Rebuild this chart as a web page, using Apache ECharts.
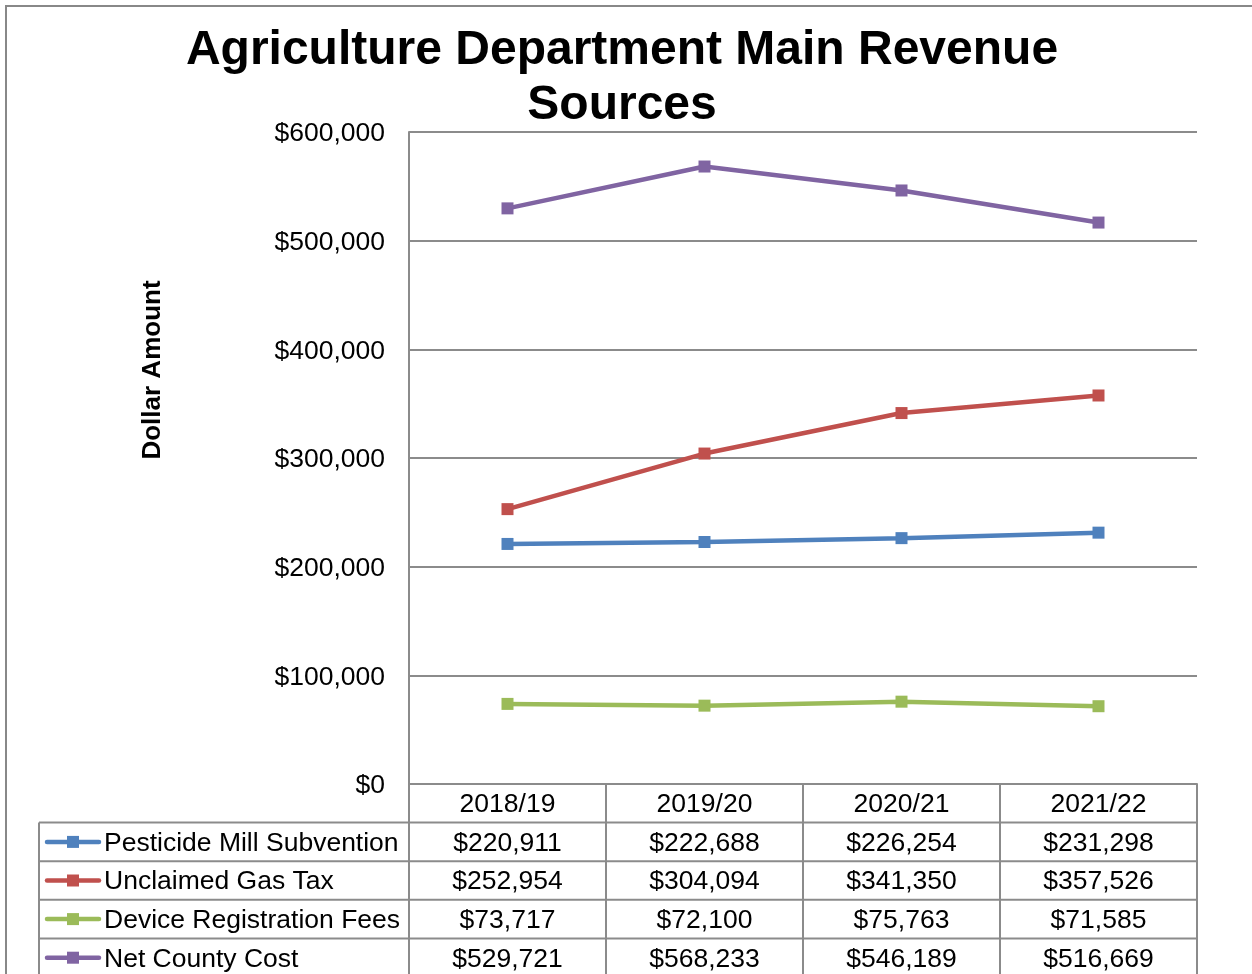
<!DOCTYPE html>
<html>
<head>
<meta charset="utf-8">
<title>Agriculture Department Main Revenue Sources</title>
<script src="https://cdn.jsdelivr.net/npm/echarts@6/dist/echarts.min.js"></script>
<style>
  html, body { margin: 0; padding: 0; background: #fff; }
  #chart { width: 1252px; height: 974px; }
</style>
</head>
<body>
<div id="chart"></div>
<script>
const years = ['2018/19', '2019/20', '2020/21', '2021/22']
const pesticide = [220911, 222688, 226254, 231298]
const gasTax = [252954, 304094, 341350, 357526]
const deviceFees = [73717, 72100, 75763, 71585]
const netCounty = [529721, 568233, 546189, 516669]
const seriesNames = ['Pesticide Mill Subvention', 'Unclaimed Gas Tax', 'Device Registration Fees', 'Net County Cost']
const yMin = 0
const yMax = 600000
const yStep = 100000

const colors = ['#4F81BD', '#C0504D', '#9BBB59', '#8064A2']
const font = "'Liberation Sans', Arial, sans-serif"
const gray = '#8b8b8b'
const textSize = 26.5

const gridLeft = 409
const gridRight = 1197
const gridTop = 132
const gridBottom = 784
const rowH = 38.6
const legendLeft = 39

const fmt = v => '$' + v.toLocaleString('en-US')

const chart = echarts.init(document.getElementById('chart'))

const allSeries = [pesticide, gasTax, deviceFees, netCounty]

chart.setOption({
  animation: false,
  backgroundColor: '#fff',
  title: {
    text: 'Agriculture Department Main Revenue\nSources',
    left: 622,
    top: 23,
    padding: 0,
    textAlign: 'center',
    textStyle: {
      fontFamily: font,
      fontSize: 48,
      fontWeight: 'bold',
      lineHeight: 55,
      color: '#000'
    }
  },
  grid: {
    left: gridLeft,
    top: gridTop,
    width: gridRight - gridLeft,
    height: gridBottom - gridTop
  },
  xAxis: {
    type: 'category',
    data: years,
    boundaryGap: true,
    axisLine: { lineStyle: { color: gray, width: 2 } },
    axisTick: { show: false },
    axisLabel: { show: false }
  },
  yAxis: {
    type: 'value',
    min: yMin,
    max: yMax,
    interval: yStep,
    axisLine: { show: true, lineStyle: { color: gray, width: 2 } },
    axisTick: { show: false },
    axisLabel: {
      margin: 24,
      formatter: v => '{t|' + fmt(v) + '}',
      rich: {
        t: {
          color: '#000',
          fontFamily: font,
          fontSize: textSize,
          padding: [4, 0, 0, 0]
        }
      }
    },
    splitLine: { lineStyle: { color: gray, width: 2 } }
  },
  series: allSeries.map((d, i) => ({
    name: seriesNames[i],
    type: 'line',
    data: d,
    symbol: 'rect',
    symbolSize: 12,
    itemStyle: { color: colors[i] },
    lineStyle: { color: colors[i], width: 4.5 },
    z: 3
  }))
})

// data table under the plot, plus border and axis title
function buildGraphics() {
  const els = []
  const colW = (gridRight - gridLeft) / years.length
  const tableTop = gridBottom
  const nRows = seriesNames.length + 1
  const tableBottom = tableTop + rowH * nRows
  const dy = 1.5

  els.push({
    type: 'rect',
    shape: { x: 6, y: 6, width: 1400, height: 1200 },
    style: { fill: null, stroke: '#888', lineWidth: 2 },
    silent: true
  })

  els.push({
    type: 'text',
    x: 153,
    y: 370,
    rotation: Math.PI / 2,
    style: {
      text: 'Dollar Amount',
      fontFamily: font,
      fontSize: 26,
      fontWeight: 'bold',
      fill: '#000',
      align: 'center',
      verticalAlign: 'middle'
    }
  })

  // vertical lines
  for (let c = 0; c <= years.length; c++) {
    const x = gridLeft + colW * c
    els.push({
      type: 'line',
      shape: { x1: x, y1: tableTop, x2: x, y2: tableBottom },
      style: { stroke: gray, lineWidth: 2 }
    })
  }
  els.push({
    type: 'line',
    shape: { x1: legendLeft, y1: tableTop + rowH, x2: legendLeft, y2: tableBottom },
    style: { stroke: gray, lineWidth: 2 }
  })
  // horizontal lines
  for (let r = 1; r <= nRows; r++) {
    const y = tableTop + rowH * r
    els.push({
      type: 'line',
      shape: { x1: legendLeft, y1: y, x2: gridRight, y2: y },
      style: { stroke: gray, lineWidth: 2 }
    })
  }

  // header
  years.forEach((yr, c) => {
    const cx = chart.convertToPixel({ xAxisIndex: 0 }, c)
    els.push({
      type: 'text',
      x: cx,
      y: tableTop + rowH / 2 + dy,
      style: { text: yr, fontFamily: font, fontSize: textSize, fill: '#000', align: 'center', verticalAlign: 'middle' }
    })
  })

  // rows
  allSeries.forEach((d, i) => {
    const cy = tableTop + rowH * (i + 1.5)
    els.push({
      type: 'line',
      shape: { x1: 47, y1: cy, x2: 99, y2: cy },
      style: { stroke: colors[i], lineWidth: 4.5, lineCap: 'round' }
    })
    els.push({
      type: 'rect',
      shape: { x: 67, y: cy - 6, width: 12, height: 12 },
      style: { fill: colors[i] }
    })
    els.push({
      type: 'text',
      x: 104,
      y: cy + dy,
      style: { text: seriesNames[i], fontFamily: font, fontSize: textSize, fill: '#000', align: 'left', verticalAlign: 'middle' }
    })
    d.forEach((v, c) => {
      const cx = chart.convertToPixel({ xAxisIndex: 0 }, c)
      els.push({
        type: 'text',
        x: cx,
        y: cy + dy,
        style: { text: fmt(v), fontFamily: font, fontSize: textSize, fill: '#000', align: 'center', verticalAlign: 'middle' }
      })
    })
  })
  return els
}

chart.setOption({ graphic: buildGraphics() })
</script>
</body>
</html>
